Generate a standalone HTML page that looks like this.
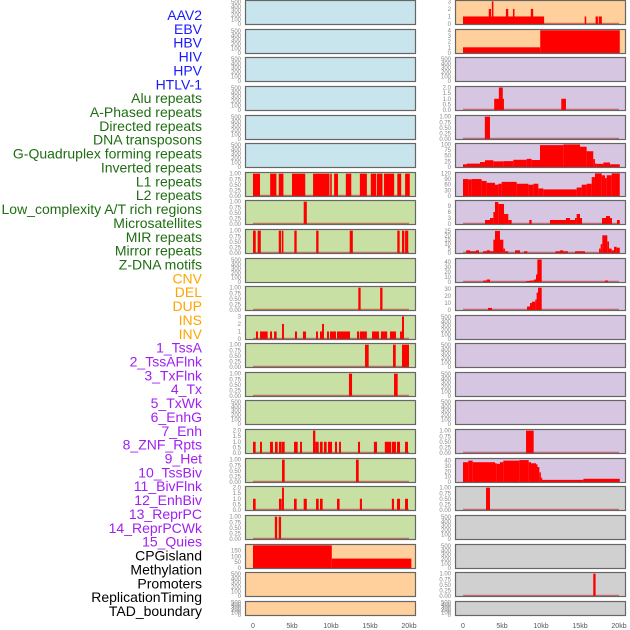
<!DOCTYPE html>
<html><head><meta charset="utf-8"><style>
body{margin:0;background:#fff;width:630px;height:630px;overflow:hidden}
svg{display:block}
</style></head><body>
<svg id="chart" width="630" height="630" viewBox="0 0 630 630" font-family="Liberation Sans, sans-serif"></svg>
<script>
// ---------- labels ----------
const labelBlue = ["AAV2","EBV","HBV","HIV","HPV","HTLV-1"];
const labelGreen = ["Alu repeats","A-Phased repeats","Directed repeats","DNA transposons","G-Quadruplex forming repeats","Inverted repeats","L1 repeats","L2 repeats","Low_complexity A/T rich regions","Microsatellites","MIR repeats","Mirror repeats","Z-DNA motifs"];
const labelOrange = ["CNV","DEL","DUP","INS","INV"];
const labelPurple = ["1_TssA","2_TssAFlnk","3_TxFlnk","4_Tx","5_TxWk","6_EnhG","7_Enh","8_ZNF_Rpts","9_Het","10_TssBiv","11_BivFlnk","12_EnhBiv","13_ReprPC","14_ReprPCWk","15_Quies"];
const labelBlack = ["CPGisland","Methylation","Promoters","ReplicationTiming","TAD_boundary"];
const xTickValues = [0,5,10,15,20];
const xTickLabels = ["0","5kb","10kb","15kb","20kb"];

// ---------- left column data: [startKb, endKb, value] ----------
const L7 = [[0,0.9,1],[2.2,3.0,1],[3.3,3.9,1],[5.0,6.7,1],[7.7,9.8,1],[9.9,10.1,1],[10.4,10.9,1],[11.9,12.6,1],[13.7,14.6,1],[15.1,15.8,1],[15.9,16.6,1],[16.8,18.1,1],[18.5,19.0,1],[19.5,20.1,1]];
const L8 = [[6.5,6.9,1]];
const L9 = [[0,0.35,1],[0.6,1.0,1],[3.3,3.6,1],[3.7,3.9,1],[5.3,5.6,1],[8.1,8.4,1],[12.4,12.8,1],[18.5,18.8,1],[19.1,19.4,1],[19.5,19.9,1]];
const L11 = [[13.5,13.8,1],[16.3,16.6,1]];
const L12 = [[0.38,0.64,1],[0.9,1.88,1],[2.18,2.44,1],[2.7,3.03,1],[3.72,3.97,2],[5.38,5.64,1],[6.4,6.8,1],[8.08,8.33,1],[8.59,8.85,1],[8.85,9.1,2],[9.49,9.74,1],[9.87,10.64,1],[10.77,12.44,1],[13.33,13.6,1],[13.7,14.6,1],[15.26,16.15,1],[16.4,17.2,1],[17.56,18.33,1],[18.85,19.1,1],[19.1,19.36,3]];
const L13 = [[14.36,14.83,1],[17.95,18.3,1],[19.1,20.0,1]];
const L14 = [[12.3,12.7,1],[18.08,18.55,1]];
const L16 = [[0,0.34,1],[0.9,1.15,1],[2.18,2.56,1],[2.82,3.16,1],[3.33,3.68,1],[3.72,4.06,1],[5.26,5.73,1],[6.03,6.28,1],[7.69,7.99,2],[7.99,8.42,1],[8.59,8.93,1],[9.1,9.44,1],[9.62,10.13,1],[10.51,10.77,1],[11.03,11.28,1],[13.46,13.72,1],[15.5,15.9,1],[16.9,17.7,1],[17.8,18.33,1],[18.46,18.85,1],[19.49,19.87,1]];
const L17 = [[3.72,4.06,1],[13.2,13.55,1]];
const L18 = [[0,0.34,1],[3.33,3.68,1],[3.72,3.97,2],[5.26,5.6,1],[6.5,6.9,1],[8.08,8.42,1],[8.59,8.93,1],[10.77,11.1,1],[13.7,13.97,1],[17.8,18.08,1],[18.46,18.85,1],[19.49,19.87,1]];
const L19 = [[2.8,3.1,1],[3.3,3.6,1]];
const L20 = [[0,10.1,195],[10.1,20.3,81]];

// ---------- right column data ----------
const R1 = [[0,10.2,1],[3.3,3.6,2],[3.7,3.9,3],[5.5,5.8,2],[6.4,6.6,2],[8.7,9.0,2],[10.1,10.4,1],[15.6,15.8,1],[17.0,17.3,1],[17.4,17.8,1]];
const R2 = [[0,9.9,1],[9.9,20.1,4]];
const R4 = [[4.0,5.25,1],[4.6,5.1,2],[12.6,13.2,1]];
const R5 = [[2.8,3.46,1]];
const R6 = [[0,0.47,12],[0.47,2.18,15],[2.18,2.82,22],[2.82,3.89,30],[3.89,5.17,25],[5.17,6.45,26],[6.45,8.16,32],[8.16,8.8,36],[8.8,9.87,31],[9.87,12.86,97],[12.86,15.0,100],[15.0,15.85,90],[15.85,16.7,70],[16.7,16.92,35],[16.92,17.14,15],[17.14,17.99,14],[17.99,18.84,20],[18.84,20.1,12]];
const R7 = [[0,0.68,90],[0.68,1.11,88],[1.11,2.39,90],[2.39,3.03,80],[3.03,4.1,70],[4.1,4.53,60],[4.53,4.96,65],[4.96,6.88,75],[6.88,8.38,65],[8.38,9.02,60],[9.02,9.66,65],[9.66,10.3,40],[10.3,14.57,35],[14.57,15.21,45],[15.21,15.85,60],[15.85,16.5,65],[16.5,16.92,100],[16.92,17.78,120],[17.78,18.2,110],[18.2,18.42,95],[18.42,19.06,110],[19.06,20.1,120]];
const R8 = [[2.82,3.46,2],[3.46,3.89,3],[3.89,4.1,6],[4.1,4.53,11],[4.53,5.26,10],[5.26,5.81,5],[5.81,6.24,2],[8.5,8.8,2],[11.15,13.2,2],[13.2,13.72,3],[13.72,14.36,2],[14.36,14.57,3],[14.57,15.0,5],[15.0,15.26,3],[17.82,18.33,3],[18.33,18.84,4],[18.84,19.1,3],[19.74,20.1,2]];
const R9 = [[0.4,0.9,3],[0.9,1.67,2],[1.67,2.05,3],[2.56,3.03,2],[3.03,3.46,3],[3.46,3.89,2],[3.89,4.1,15],[4.1,4.74,25],[4.74,5.17,15],[5.17,5.38,5],[5.38,5.81,2],[6.67,7.31,3],[7.82,8.25,2],[11.85,12.44,2],[12.44,12.86,3],[12.86,13.46,2],[14.36,15.64,2],[17.44,17.65,5],[17.65,17.86,10],[17.86,18.5,20],[18.5,18.72,13],[18.72,19.06,5],[19.06,19.36,3],[19.36,19.7,7],[19.7,20.1,6]];
const R10 = [[2.61,3.03,3],[3.03,3.46,5],[8.08,8.59,2],[8.59,9.1,3],[9.1,9.36,5],[9.36,9.53,15],[9.53,10.09,45],[18.2,18.59,3]];
const R11 = [[3.2,3.72,3],[8.21,8.59,5],[8.59,8.85,10],[8.85,9.27,12],[9.27,9.44,15],[9.44,9.62,25],[9.62,10.09,32]];
const R16 = [[8.08,9.06,1]];
const R17 = [[0,0.68,37],[0.68,1.24,40],[1.24,4.1,37],[4.1,4.32,35],[4.32,4.74,34],[4.74,5.17,37],[5.17,7.22,40],[7.22,8.42,41],[8.42,8.72,37],[8.72,9.36,35],[9.36,9.53,33],[9.53,9.79,28],[9.79,9.96,18],[9.96,10.13,8],[10.13,15.43,4],[15.43,20.1,6]];
const R18 = [[2.95,3.46,1]];
const R21 = [[16.7,17.0,1]];

// ---------- tick sets ----------
const T500 = [0,100,200,300,400,500];
const T1 = [0,0.25,0.5,0.75,1];
const T2 = [0,0.5,1,1.5,2];

const BLUE="#c8e4ec", GREEN="#c8e0a4", ORANGE="#ffd09c", PURPLE="#d6c6e2", GREY="#d0d0d0";
const rowTops=[0,29,57,86,115,143,172,200,229,258,286,315,343,372,400,429,458,486,515,544,572,601];

const leftPanels = [
 [null,520,T500,0,BLUE],[null,520,T500,0,BLUE],[null,520,T500,0,BLUE],[null,520,T500,0,BLUE],[null,520,T500,0,BLUE],[null,520,T500,0,BLUE],
 [L7,1.03,T1,2,GREEN],[L8,1.03,T1,2,GREEN],[L9,1.03,T1,2,GREEN],[null,520,T500,0,GREEN],[L11,1.03,T1,2,GREEN],[L12,3.05,[0,1,2,3],0,GREEN],
 [L13,1.03,T1,2,GREEN],[L14,1.03,T1,2,GREEN],[null,520,T500,0,GREEN],[L16,2.05,T2,1,GREEN],[L17,1.03,T1,2,GREEN],[L18,2.05,T2,1,GREEN],[L19,1.03,T1,2,GREEN],
 [L20,198,[0,50,100,150],0,ORANGE],[null,520,T500,0,ORANGE],[null,520,T500,0,ORANGE]
];
const rightPanels = [
 [R1,3.05,[0,1,2,3],0,ORANGE],[R2,4.05,[0,1,2,3,4],0,ORANGE],[null,520,T500,0,PURPLE],[R4,2.05,T2,1,PURPLE],[R5,1.03,T1,2,PURPLE],
 [R6,102,[0,25,50,75,100],0,PURPLE],[R7,122,[0,30,60,90,120],0,PURPLE],[R8,11.5,[0,3,6,9],0,PURPLE],[R9,26,[0,5,10,15,20,25],0,PURPLE],
 [R10,46,[0,10,20,30,40],0,PURPLE],[R11,33,[0,10,20,30],0,PURPLE],[null,520,T500,0,PURPLE],[null,520,T500,0,PURPLE],[null,520,T500,0,PURPLE],[null,520,T500,0,PURPLE],
 [R16,1.03,T1,2,PURPLE],[R17,43,[0,10,20,30,40],0,PURPLE],[R18,1.03,T1,2,GREY],[null,520,T500,0,GREY],[null,520,T500,0,GREY],[R21,1.03,T1,2,GREY],[null,520,T500,0,GREY]
];

const NS="http://www.w3.org/2000/svg";
const svg=document.getElementById('chart');
function mk(tag,attrs,parent){const e=document.createElementNS(NS,tag);for(const k in attrs)e.setAttribute(k,attrs[k]);(parent||svg).appendChild(e);return e;}
const KB=7.8;
function xScale(col,kb){return (col===0?253:463)+kb*KB;}

function drawPanel(col,row,spec){
  const [data,ymax,ticks,dec,bg]=spec;
  const x0=col===0?245:455, w=171, top=rowTops[row], h=row===21?15:25;
  const g=mk('g',{});
  
  
  mk('rect',{x:x0,y:top,width:w,height:h,fill:bg},g);
  const yS=v=>top+h-1-(v/ymax)*(h-2);
  if(data){
    mk('line',{x1:xScale(col,0),x2:xScale(col,20),y1:top+h-1.5,y2:top+h-1.5,stroke:'#c03030','stroke-width':1.5,opacity:0.6},g);
    data.forEach(d=>{
      const xa=xScale(col,d[0]), xb=xScale(col,d[1]);
      const b=mk('rect',{x:xa,y:yS(d[2]),width:Math.max(1.5,xb-xa),height:top+h-1-yS(d[2]),fill:'#ff0000'},g);
      
      
    });
  }
  mk('rect',{x:x0+0.5,y:top+0.5,width:w-1,height:h-1,fill:'none',stroke:'#666','stroke-width':1.2},g);
  const tg=mk('g',{},g);
  
  
  ticks.forEach(t=>{
    const y=yS(t);
    if(y<top-3)return;
    const tx=mk('text',{x:x0-4,y:y+2,'font-size':6,fill:'#888','text-anchor':'end'},tg);
    tx.textContent=t.toFixed(dec);
  });
}
leftPanels.forEach((p,i)=>drawPanel(0,i,p));
rightPanels.forEach((p,i)=>drawPanel(1,i,p));

[0,1].forEach(col=>{
  const g=mk('g',{});
  
  
  xTickValues.forEach((v,i)=>{
    const t=mk('text',{x:xScale(col,v),y:628,'font-size':7,fill:'#555','text-anchor':'middle'},g);
    t.textContent=xTickLabels[i];
  });
});

const groups=[[labelBlue,'#1a1aff'],[labelGreen,'#1f6e12'],[labelOrange,'#ffa500'],[labelPurple,'#a020f0'],[labelBlack,'#000']];
const lg=mk('g',{});


let idx=0;
groups.forEach(([arr,color])=>{
  arr.forEach(name=>{
    const t=mk('text',{x:202,y:20+idx*13.86,'font-size':14,fill:color,'text-anchor':'end'},lg);
    
    
    t.textContent=name;
    idx++;
  });
});
</script>
</body></html>
